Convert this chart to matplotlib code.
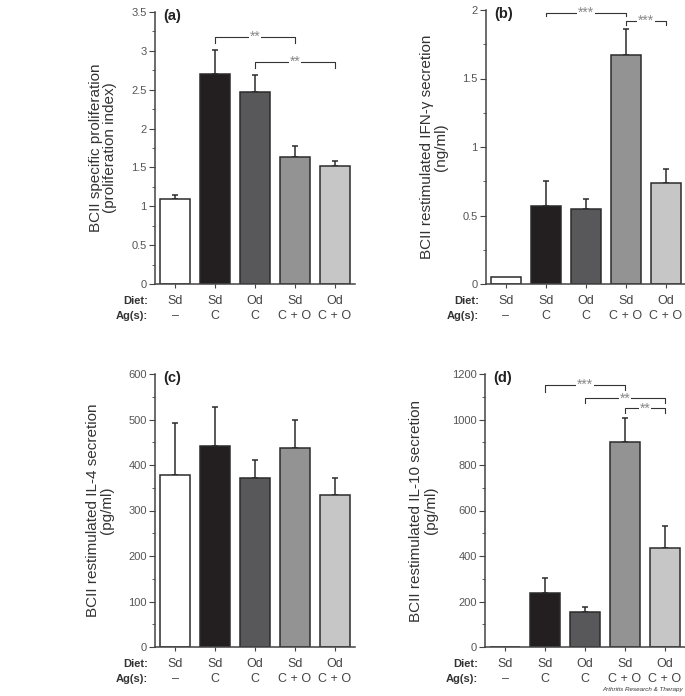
import matplotlib
matplotlib.use('Agg')
import matplotlib.pyplot as plt
from matplotlib.ticker import MultipleLocator

plt.rcParams['font.family'] = ['Liberation Sans', 'DejaVu Sans']

diet = ['Sd', 'Sd', 'Od', 'Sd', 'Od']
ags = ['\u2013', 'C', 'C', 'C + O', 'C + O']
colors = ['#ffffff', '#231f20', '#58585a', '#939393', '#c6c6c6']

# means and upper error (SEM) per panel
prolif = [1.10, 2.70, 2.47, 1.63, 1.52]
prolif_err = [0.04, 0.31, 0.22, 0.15, 0.06]
ifng = [0.05, 0.57, 0.545, 1.67, 0.74]
ifng_err = [0.0, 0.18, 0.075, 0.19, 0.10]
il4 = [377, 441, 372, 438, 335]
il4_err = [116, 86, 39, 62, 37]
il10 = [0, 238, 155, 902, 437]
il10_err = [0, 65, 20, 103, 95]

# significance brackets: (bar i, bar j, height, drop, label)
sig_a = [(1, 3, 3.175, 0.075, '**'), (2, 4, 2.86, 0.08, '**')]
sig_b = [(1, 3, 1.98, 0.025, '***'), (3, 4, 1.92, 0.03, '***')]
sig_d = [(1, 3, 1151, 29, '***'), (2, 4, 1093, 22, '**'), (3, 4, 1049, 22, '**')]

fig = plt.figure(figsize=(6.85, 6.96), dpi=100)

W = 200 / 685
panels = [
    ([155 / 685, 1 - 284 / 696, W, 272 / 696], prolif, prolif_err, 3.5, 0.5, 0.25,
     'BCII specific proliferation\n(proliferation index)', '(a)', sig_a),
    ([486 / 685, 1 - 284 / 696, W, 274 / 696], ifng, ifng_err, 2, 0.5, 0.25,
     'BCII restimulated IFN-\u03b3 secretion\n(ng/ml)', '(b)', sig_b),
    ([155 / 685, 1 - 647 / 696, W, 273 / 696], il4, il4_err, 600, 100, 50,
     'BCII restimulated IL-4 secretion\n(pg/ml)', '(c)', []),
    ([485 / 685, 1 - 647 / 696, W, 273 / 696], il10, il10_err, 1200, 200, 100,
     'BCII restimulated IL-10 secretion\n(pg/ml)', '(d)', sig_d),
]

x = list(range(5))
for rect, vals, errs, ymax, major, minor, ylab, tag, sigs in panels:
    ax = fig.add_axes(rect)
    ax.bar(x, vals, width=0.75, color=colors, edgecolor='#2b2b2b', linewidth=1.1, zorder=2)
    for xi, v, e in zip(x, vals, errs):
        if e > 0:
            ax.errorbar(xi, v, yerr=[[0], [e]], fmt='none', ecolor='#2b2b2b',
                        elinewidth=1.1, capsize=2.5, capthick=1.1, zorder=1)
    ax.set_xlim(-0.5, 4.5)
    ax.set_ylim(0, ymax)
    ax.yaxis.set_major_locator(MultipleLocator(major))
    ax.yaxis.set_minor_locator(MultipleLocator(minor))
    ax.spines['top'].set_visible(False)
    ax.spines['right'].set_visible(False)
    for s in ['left', 'bottom']:
        ax.spines[s].set_color('#444444')
        ax.spines[s].set_linewidth(1.1)
    ax.tick_params(axis='y', which='major', length=4, width=0.8, color='#444444',
                   labelsize=8, labelcolor='#555555', pad=2)
    ax.tick_params(axis='y', which='minor', length=2, width=0.6, color='#444444')
    ax.set_xticks(x)
    ax.tick_params(axis='x', length=3, width=0.8, color='#444444', labelbottom=False)
    ax.yaxis.set_major_formatter(plt.FuncFormatter(lambda v, p: f'{v:g}'))
    ax.set_ylabel(ylab, fontsize=11, color='#333333', labelpad=10, linespacing=1.05)
    ax.text(0.04, 0.985, tag, transform=ax.transAxes, fontsize=10.5, fontweight='bold',
            color='#222222', va='center', ha='left')

    for xi, d, a in zip(x, diet, ags):
        ax.annotate(d, (xi, 0), xycoords=('data', 'axes fraction'), xytext=(0, -12),
                    textcoords='offset points', ha='center', va='center', fontsize=9, color='#444444')
        ax.annotate(a, (xi, 0), xycoords=('data', 'axes fraction'), xytext=(0, -23),
                    textcoords='offset points', ha='center', va='center', fontsize=9, color='#444444')
    ax.annotate('Diet:', (0, 0), xycoords='axes fraction', xytext=(-5, -12),
                textcoords='offset points', ha='right', va='center', fontsize=8,
                fontweight='bold', color='#333333')
    ax.annotate('Ag(s):', (0, 0), xycoords='axes fraction', xytext=(-5, -23),
                textcoords='offset points', ha='right', va='center', fontsize=8,
                fontweight='bold', color='#333333')

    for i, j, h, dr, lab in sigs:
        ax.plot([i, i, j, j], [h - dr, h, h, h - dr], color='#333333', lw=0.8,
                clip_on=False, zorder=3)
        ax.text((i + j) / 2, h, lab, ha='center', va='center', fontsize=10, color='#888888',
                bbox=dict(facecolor='white', edgecolor='none', pad=0.5), zorder=4)

fig.text(683 / 685, 1 - 690 / 696, 'Arthritis Research & Therapy', fontsize=4.5,
         style='italic', ha='right', va='center', color='#333333')

fig.savefig('out.png', dpi=100)
